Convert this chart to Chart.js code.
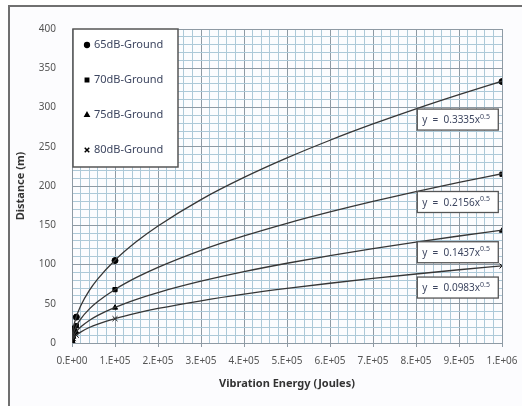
<!DOCTYPE html>
<html>
<head>
<meta charset="utf-8">
<script src="https://cdn.jsdelivr.net/npm/chart.js@4/dist/chart.umd.min.js"></script>
<style>
  body { margin: 0; background: #fff; }
  #wrap { position: relative; width: 522px; height: 406px; overflow: hidden; }
  #frame { position: absolute; left: 8px; top: 5px; width: 600px; height: 500px;
           border-left: 2px solid #707070; border-top: 2px solid #707070; background: #fcfcfe; }
  canvas { position: absolute; left: 0; top: 0; }
</style>
</head>
<body>
<div id="wrap">
  <div id="frame"></div>
  <canvas id="chart" width="522" height="406"></canvas>
</div>
<script>
document.addEventListener("DOMContentLoaded", function () {
  // measured points
  const seriesNames = ["65dB-Ground", "70dB-Ground", "75dB-Ground", "80dB-Ground"];
  const pointStyles = ["circle", "rect", "triangle", "crossRot"];
  const energy = [0, 1000, 3000, 10000, 100000, 1000000];
  const dist65 = [0, 10.5, 18, 33, 105, 333];
  const dist70 = [0, 7, 12, 22, 68, 215];
  const dist75 = [0, 4.5, 8, 14, 45, 143];
  const dist80 = [0, 3, 5.5, 10, 31, 98];

  // power trendlines
  const trendEnergy = [0, 1000, 5000, 10000, 20000, 40000, 60000, 100000, 150000, 200000,
    300000, 400000, 500000, 600000, 700000, 800000, 900000, 1000000];
  const trend65 = [0, 10.5, 23.6, 33.4, 47.2, 66.7, 81.7, 105.5, 129.2, 149.1, 182.7, 210.9, 235.8, 258.3, 279.0, 298.3, 316.4, 333.5];
  const trend70 = [0, 6.8, 15.2, 21.6, 30.5, 43.1, 52.8, 68.2, 83.5, 96.4, 118.1, 136.4, 152.5, 167.0, 180.4, 192.8, 204.5, 215.6];
  const trend75 = [0, 4.5, 10.2, 14.4, 20.3, 28.7, 35.2, 45.4, 55.7, 64.3, 78.7, 90.9, 101.6, 111.3, 120.2, 128.5, 136.3, 143.7];
  const trend80 = [0, 3.1, 7.0, 9.8, 13.9, 19.7, 24.1, 31.1, 38.1, 44.0, 53.8, 62.2, 69.5, 76.1, 82.2, 87.9, 93.3, 98.3];
  const equations = ["0.3335", "0.2156", "0.1437", "0.0983"];

  const pointSets = [dist65, dist70, dist75, dist80];
  const trendSets = [trend65, trend70, trend75, trend80];

  function toXY(xs, ys) {
    return xs.map((x, i) => ({ x: x, y: ys[i] }));
  }

  function isMultiple(v, step) {
    const r = v / step;
    return Math.abs(r - Math.round(r)) < 1e-6;
  }

  function sciLabel(v) {
    if (v === 0) return "0.E+00";
    const exp = Math.floor(Math.log10(v) + 1e-9);
    const m = Math.round(v / Math.pow(10, exp));
    return m + ".E+" + String(exp).padStart(2, "0");
  }

  const datasets = [];
  trendSets.forEach((t) => {
    datasets.push({
      data: toXY(trendEnergy, t),
      showLine: true,
      borderColor: "#363636",
      borderWidth: 1.3,
      pointRadius: 0,
      cubicInterpolationMode: "monotone",
    });
  });
  pointSets.forEach((p, i) => {
    datasets.push({
      label: seriesNames[i],
      data: toXY(energy, p),
      showLine: false,
      pointStyle: pointStyles[i],
      pointRadius: [3, 3, 3, 3.5][i],
      pointBackgroundColor: "#000",
      pointBorderColor: "#000",
      pointBorderWidth: 1,
    });
  });

  const fontFamily = "'Noto Sans', 'DejaVu Sans', sans-serif";
  const textColor = "#3d4660";

  // legend box and equation labels drawn on top of the plot
  const overlay = {
    id: "overlay",
    afterDatasetsDraw(chart) {
      const ctx = chart.ctx;
      const xs = chart.scales.x;
      const ys = chart.scales.y;
      ctx.save();

      // legend
      const lx = chart.chartArea.left + 1, ly = chart.chartArea.top;
      ctx.fillStyle = "#fff";
      ctx.fillRect(lx, ly, 105, 138);
      ctx.strokeStyle = "#555";
      ctx.lineWidth = 1.5;
      ctx.strokeRect(lx, ly, 105, 138);
      ctx.font = "11px " + fontFamily;
      ctx.textBaseline = "middle";
      seriesNames.forEach((name, i) => {
        const cy = ly + 16 + i * 35;
        ctx.fillStyle = "#000";
        ctx.strokeStyle = "#000";
        Chart.helpers.drawPoint(ctx, {
          pointStyle: pointStyles[i],
          radius: i === 3 ? 3.2 : 2.4,
          borderWidth: 1,
        }, lx + 14, cy);
        ctx.fillStyle = textColor;
        ctx.textAlign = "left";
        ctx.fillText(name, lx + 21, cy);
      });

      // trendline equations
      const boxTops = [298, 193, 129, 84];
      equations.forEach((c, i) => {
        const bx = xs.getPixelForValue(803000);
        const by = ys.getPixelForValue(boxTops[i]);
        const bw = 81, bh = 21;
        ctx.fillStyle = "#fff";
        ctx.fillRect(bx, by, bw, bh);
        ctx.strokeStyle = "#555";
        ctx.lineWidth = 1.3;
        ctx.strokeRect(bx, by, bw, bh);
        ctx.fillStyle = textColor;
        ctx.font = "10px " + fontFamily;
        ctx.textAlign = "left";
        const main = "y  =  " + c + "x";
        ctx.fillText(main, bx + 5, by + bh / 2 + 1);
        const w = ctx.measureText(main).width;
        ctx.font = "7px " + fontFamily;
        ctx.fillText("0.5", bx + 5 + w, by + bh / 2 - 3);
      });
      ctx.restore();
    },
  };

  new Chart(document.getElementById("chart"), {
    type: "scatter",
    data: { datasets: datasets },
    plugins: [overlay],
    options: {
      responsive: false,
      animation: false,
      layout: { padding: { left: 0, top: 29, right: 20, bottom: 0 } },
      plugins: { legend: { display: false }, tooltip: { enabled: false } },
      scales: {
        x: {
          type: "linear",
          min: 0,
          max: 1000000,
          afterFit: (scale) => {
            scale.height = 63;
            scale.paddingLeft = 0;
            scale.paddingRight = 0;
          },
          ticks: {
            stepSize: 20000,
            autoSkip: false,
            maxRotation: 0,
            padding: 8,
            color: "#555",
            font: { family: fontFamily, size: 10 },
            callback: (v) => (isMultiple(v, 100000) ? sciLabel(v) : ""),
          },
          grid: {
            color: (c) => (isMultiple(c.tick.value, 100000) ? "#8e9aa4" : "#adc9d8"),
            tickColor: (c) => (isMultiple(c.tick.value, 100000) ? "#8e9aa4" : "rgba(0,0,0,0)"),
            tickLength: 4,
            lineWidth: 1,
          },
          border: { color: "#8e9aa4" },
          title: {
            display: true,
            text: "Vibration Energy (Joules)",
            color: "#333",
            font: { family: fontFamily, size: 11, weight: "bold" },
            padding: { top: 4, bottom: 16 },
          },
        },
        y: {
          min: 0,
          max: 400,
          afterFit: (scale) => { scale.width = 72; },
          ticks: {
            stepSize: 10,
            autoSkip: false,
            padding: 16,
            color: "#555",
            font: { family: fontFamily, size: 10 },
            callback: (v) => (isMultiple(v, 50) ? v : ""),
          },
          grid: {
            color: (c) => (isMultiple(c.tick.value, 50) ? "#8e9aa4" : "#adc9d8"),
            drawTicks: false,
            lineWidth: 1,
          },
          border: { color: "#8e9aa4" },
          title: {
            display: true,
            text: "Distance (m)",
            color: "#333",
            font: { family: fontFamily, size: 11, weight: "bold" },
            padding: { top: 14, bottom: 0 },
          },
        },
      },
    },
  });
});
</script>
</body>
</html>
